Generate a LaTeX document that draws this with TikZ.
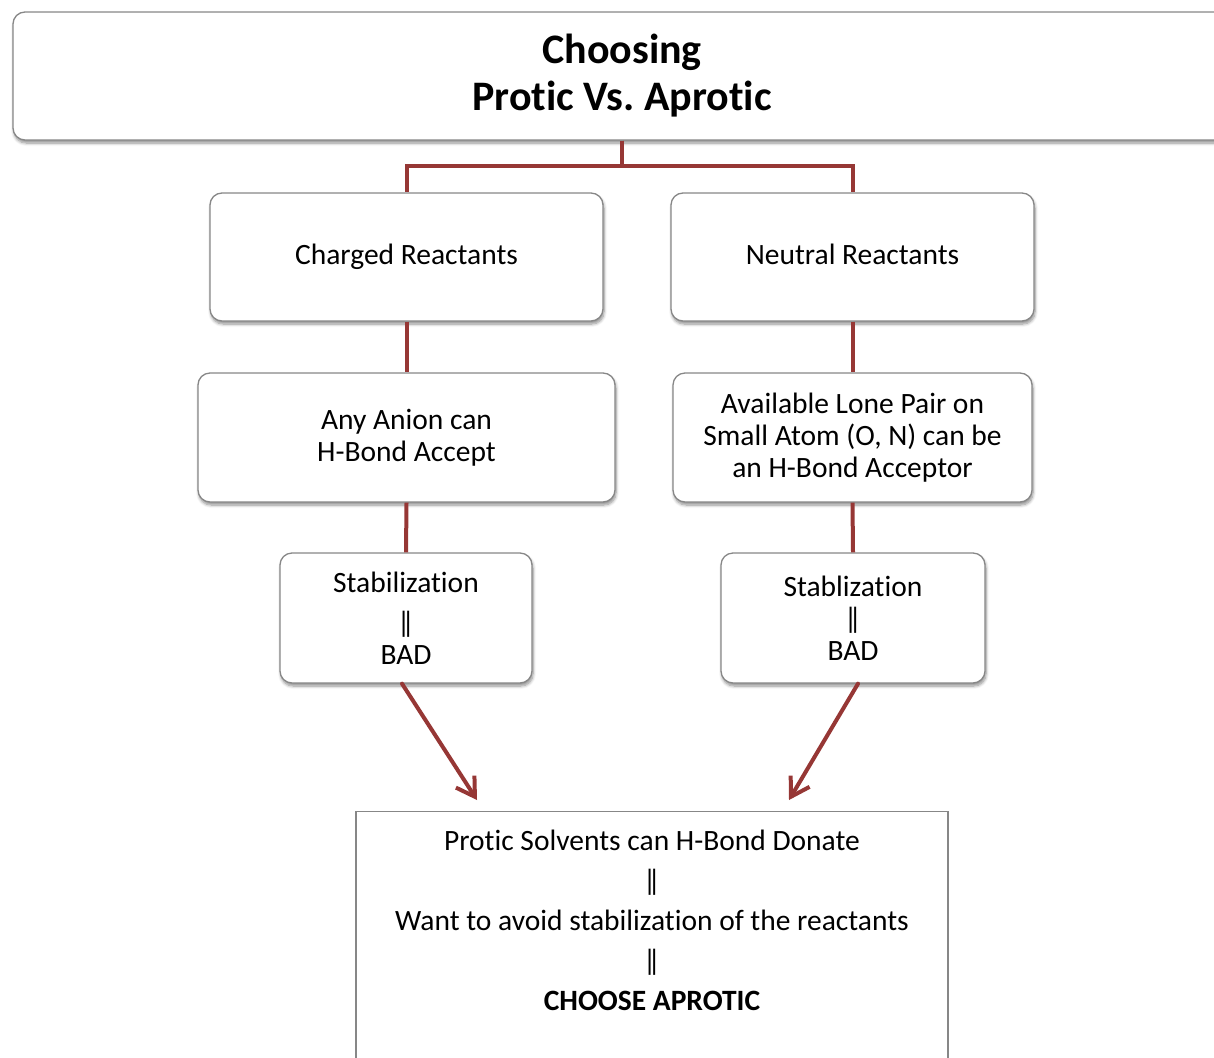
\documentclass[tikz,border=0pt]{standalone}
\usepackage{fontspec}
\setmainfont{Carlito}[Ligatures={NoCommon}]
\usetikzlibrary{arrows.meta,shadows.blur}
\definecolor{conn}{RGB}{150,55,53}
\definecolor{boxline}{RGB}{135,135,135}
\tikzset{
  rbox/.style={draw=boxline, line width=1.3pt, fill=white, rounded corners=12pt,
    align=center, inner sep=0pt,
    blur shadow={shadow xshift=1pt, shadow yshift=-3pt, shadow blur steps=6, shadow blur radius=3pt, shadow opacity=45},
    font=\fontsize{29.5}{32}\selectfont},
  oneline/.style={text height=19pt, text depth=4pt},
  plainbox/.style={draw=boxline, line width=1.3pt, fill=white, inner sep=0pt},
  conline/.style={draw=conn, line width=4pt},
  conarrow/.style={draw=conn, line width=4pt, line cap=round, -{Straight Barb[length=18pt,width=22pt,line width=4pt]}},
}
\newcommand{\dbar}{‖}
\begin{document}
\frenchspacing
\begin{tikzpicture}[x=1pt,y=-1pt]
\useasboundingbox (0,0) rectangle (1214,1057);
\clip (0,0) rectangle (1214,1057);
% top
\node[rbox, minimum width=1218pt, minimum height=128pt, font=\bfseries\fontsize{42}{47}\selectfont] (top) at (622,76) {Choosing\\Protic Vs. Aprotic};
% level 1
\node[rbox, oneline, minimum width=393pt, minimum height=128pt] (cL) at (406.5,257) {Charged Reactants};
\node[rbox, oneline, minimum width=363pt, minimum height=128pt] (nR) at (852.5,257) {Neutral Reactants};
% level 2
\node[rbox, minimum width=417pt, minimum height=129pt] (aL) at (406.5,437.5) {Any Anion can\\H-Bond Accept};
\node[rbox, minimum width=359pt, minimum height=129pt] (aR) at (852.5,437.5) {Available Lone Pair on\\Small Atom (O, N) can be\\an H-Bond Acceptor};
% level 3
\node[rbox, minimum width=252pt, minimum height=130pt] (sL) at (406,618) {Stabilization\\[8pt]\dbar\\BAD};
\node[rbox, minimum width=264pt, minimum height=130pt] (sR) at (853,618) {Stablization\\\dbar\\BAD};
% bottom
\node[plainbox, minimum width=592pt, minimum height=270pt, anchor=north] (bot) at (652,811) {};
\node[align=center, inner sep=0pt, font=\fontsize{29.5}{40}\selectfont] (botTxt) at (652,920)
  {Protic Solvents can H-Bond Donate\\\dbar\\Want to avoid stabilization of the reactants\\\dbar\\\textbf{CHOOSE APROTIC}};
\coordinate (tipL) at (477,800);
\coordinate (tipR) at (789,800);
% connectors
\draw[conline] (top.south) -- +(0,25) -| (cL.north);
\draw[conline] (top.south) -- +(0,25) -| (nR.north);
\draw[conline] (cL.south) -- (aL.north);
\draw[conline] (nR.south) -- (aR.north);
\draw[conline] (aL.south) -- (sL.north);
\draw[conline] (aR.south) -- (sR.north);
\draw[conarrow] ([xshift=-4pt]sL.south) -- (tipL);
\draw[conarrow] ([xshift=5pt]sR.south) -- (tipR);
\end{tikzpicture}
\end{document}
